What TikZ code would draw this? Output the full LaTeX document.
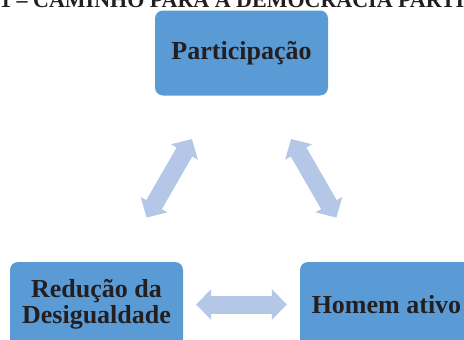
\documentclass[tikz,border=0pt]{standalone}
\usepackage{fontspec}
\setmainfont{Liberation Serif}
\usepackage{tikz}
\usetikzlibrary{arrows.meta}
\definecolor{boxblue}{HTML}{5B9BD5}
\definecolor{arrowblue}{HTML}{B4C7E7}
\definecolor{txt}{HTML}{231F20}

\begin{document}
\begin{tikzpicture}[x=1pt, y=-1pt,
    box/.style={fill=boxblue, rounded corners=8pt, minimum width=173pt, minimum height=85pt,
      inner sep=0pt, align=center, text=txt, font=\fontsize{26}{26}\selectfont\bfseries},
    dbl/.style={draw=arrowblue, line width=18pt,
      {Triangle[length=15pt 0 0, width=30pt 0 0]}-{Triangle[length=15pt 0 0, width=30pt 0 0]}}]
      \useasboundingbox (0,0) rectangle (464,340);
      \node[anchor=base west, inner sep=0pt, text=txt, font=\fontsize{22}{22}\selectfont\bfseries] (title) at (0,7) {1 -- CAMINHO PARA A DEMOCRACIA PARTICIPATIVA};
      \node[box] (part) at (241.5,53) {Participação};
      \node[box] (red) at (96.5,304.5) {Redução da\\Desigualdade};
      \node[box] (hom) at (386.5,304.5) {Homem ativo};
      \draw[dbl, shorten <=50pt, shorten >=51pt] (part) -- (red);
      \draw[dbl, shorten <=50pt, shorten >=51pt] (part) -- (hom);
      \draw[dbl, shorten <=13pt, shorten >=13pt] (red) -- (hom);
    \end{tikzpicture}
\end{document}
